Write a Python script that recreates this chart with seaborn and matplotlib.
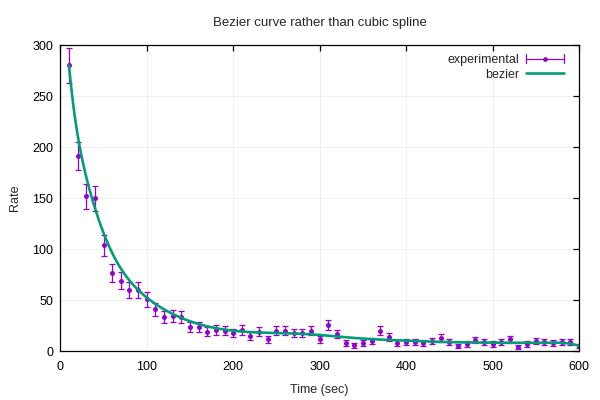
import numpy as np
import matplotlib
matplotlib.use("Agg")
import matplotlib.pyplot as plt
import seaborn as sns
from matplotlib.legend_handler import HandlerBase
from matplotlib.lines import Line2D

time_sec = [10, 20, 30, 40, 50, 60, 70, 80, 90, 100,
            110, 120, 130, 140, 150, 160, 170, 180, 190, 200,
            210, 220, 230, 240, 250, 260, 270, 280, 290, 300,
            310, 320, 330, 340, 350, 360, 370, 380, 390, 400,
            410, 420, 430, 440, 450, 460, 470, 480, 490, 500,
            510, 520, 530, 540, 550, 560, 570, 580, 590, 600]
rate = [280, 191, 152, 150, 104, 77, 69, 60, 60, 51,
        41, 34, 35, 34, 24, 24, 19, 21, 20, 18,
        21, 15, 19, 12, 20, 20, 18, 18, 20, 12,
        26, 17, 8, 6, 8, 10, 20, 14, 8, 9,
        9, 8, 10, 13, 9, 5, 7, 11, 9, 7,
        9, 12, 4, 7, 10, 9, 8, 9, 9, 5]
rate_err = list(np.sqrt(rate))

x_ticks = [0, 100, 200, 300, 400, 500, 600]
y_ticks = [0, 50, 100, 150, 200, 250, 300]

PURPLE = "#9400D3"
GREEN = "#009E73"


def bezier(xs, ys, n=300):
    pts = np.column_stack([xs, ys]).astype(float)
    out = []
    for t in np.linspace(0, 1, n):
        p = pts.copy()
        while len(p) > 1:
            p = (1 - t) * p[:-1] + t * p[1:]
        out.append(p[0])
    out = np.array(out)
    return out[:, 0], out[:, 1]


bx, by = bezier(time_sec, rate)

sns.set_theme(style="white")
plt.rcParams["font.family"] = ["Liberation Sans", "DejaVu Sans"]

fig = plt.figure(figsize=(6, 4), dpi=100)
ax = fig.add_axes([60.3 / 600, (400 - 351.3) / 400, (579 - 60.3) / 600, (351.3 - 45) / 400])

ax.errorbar(time_sec, rate, yerr=rate_err, fmt="none", ecolor=PURPLE,
            elinewidth=0.9, capsize=2.3, capthick=0.9, zorder=2)
sns.scatterplot(x=time_sec, y=rate, color=PURPLE, s=13, linewidth=0,
                ax=ax, zorder=2.5)
sns.lineplot(x=bx, y=by, sort=False, estimator=None, color=GREEN,
             linewidth=1.9, ax=ax, zorder=3)

ax.set_xlim(0, 600)
ax.set_ylim(0, 300)
ax.set_xticks(x_ticks)
ax.set_yticks(y_ticks)
ax.grid(True, color="#ececec", linewidth=0.6)
ax.tick_params(direction="in", length=4.5, width=0.9, top=True, right=True,
               labelsize=9, colors="black", pad=5)
ax.tick_params(axis="x", labeltop=False, pad=7)
ax.tick_params(axis="y", labelright=False)
for s in ax.spines.values():
    s.set_color("black")
    s.set_linewidth(0.9)

ax.set_xlabel("Time (sec)", fontsize=9, labelpad=8)
ax.set_ylabel("Rate", fontsize=9, labelpad=8)
fig.text(320 / 600, 1 - 23 / 400, "Bezier curve rather than cubic spline",
         ha="center", va="center", fontsize=9.5)


class ErrHandler(HandlerBase):
    def create_artists(self, legend, orig_handle, xdescent, ydescent,
                       width, height, fontsize, trans):
        y = height / 2 - ydescent
        x0, x1 = -xdescent, -xdescent + width
        c = 3.0
        arts = [
            Line2D([x0, x1], [y, y], color=PURPLE, lw=0.9),
            Line2D([x0, x0], [y - c, y + c], color=PURPLE, lw=0.9),
            Line2D([x1, x1], [y - c, y + c], color=PURPLE, lw=0.9),
            Line2D([(x0 + x1) / 2], [y], color=PURPLE, marker="o", ms=3.4, mew=0, ls=""),
        ]
        for a in arts:
            a.set_transform(trans)
        return arts


h_exp = Line2D([], [], color=PURPLE)
h_bez = Line2D([], [], color=GREEN, lw=1.9)
leg = ax.legend([h_exp, h_bez], ["experimental", "bezier"],
                handler_map={h_exp: ErrHandler()}, loc="upper right",
                frameon=False, markerfirst=False, fontsize=9,
                handlelength=3.0, handletextpad=0.55, labelspacing=0.2,
                borderaxespad=0.0, borderpad=0.0,
                bbox_to_anchor=(1 - 15.5 / 518.7, 1 - 9 / 306.3))

fig.savefig("out.png", dpi=100)
